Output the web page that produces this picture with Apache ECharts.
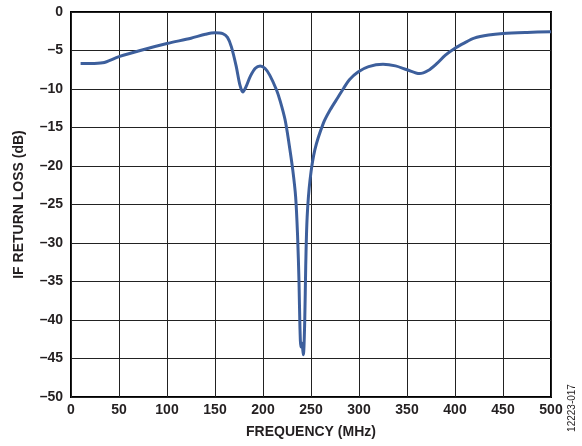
<!DOCTYPE html>
<html>
<head>
<meta charset="utf-8">
<style>
    html, body { margin: 0; padding: 0; background: #fff; }
    #chart { width: 582px; height: 446px; }
</style>
<script src="https://cdn.jsdelivr.net/npm/echarts@6/dist/echarts.min.js"></script>
</head>
<body>
<div id="chart"></div>
<script>
// frequency (MHz) and IF return loss (dB)
var freq = [10, 20, 33, 50, 75, 100, 125, 140, 150, 158, 163, 167, 172, 176, 179, 182, 187, 192, 197, 202,
    207, 214, 218, 223, 227, 231, 234, 236, 237.5, 238.5, 239.5, 240.5, 242, 243.5, 244.5, 246, 249, 254,
    263, 270, 278, 284, 290, 299, 310, 325, 338, 350, 363, 372, 381, 390, 400, 410, 420, 435, 450, 475, 500];
var returnLoss = [-6.7, -6.7, -6.6, -5.8, -4.9, -4.1, -3.4, -2.9, -2.7, -2.8, -3.3, -4.5, -7.0, -9.5, -10.4, -9.8, -8.3, -7.3, -7.0, -7.3,
    -8.2, -10.1, -11.6, -14.0, -17.0, -20.5, -24.0, -29.0, -35.0, -41.0, -43.5, -43.0, -44.5, -40.0, -33.0, -26.6, -21.8, -17.9,
    -14.4, -12.7, -11.1, -9.9, -8.8, -7.8, -7.1, -6.8, -7.0, -7.5, -8.0, -7.6, -6.7, -5.6, -4.7, -4.0, -3.4, -3.0, -2.8, -2.65, -2.55];

var xTicks = { min: 0, max: 500, interval: 50 };
var yTicks = { min: -50, max: 0, interval: 5 };

var points = [];
for (var i = 0; i < freq.length; i++) {
    points.push([freq[i], returnLoss[i]]);
}

var font = '"Liberation Sans", Arial, sans-serif';
var chart = echarts.init(document.getElementById('chart'));
chart.setOption({
    backgroundColor: '#fff',
    animation: false,
    grid: {
        left: 71,
        right: 31,
        top: 12,
        bottom: 49,
        show: true,
        borderColor: '#000',
        borderWidth: 2
    },
    xAxis: {
        type: 'value',
        min: xTicks.min,
        max: xTicks.max,
        interval: xTicks.interval,
        name: 'FREQUENCY (MHz)',
        nameLocation: 'middle',
        nameGap: 28,
        nameTextStyle: { fontFamily: font, fontWeight: 'bold', fontSize: 14, color: '#231f20' },
        axisLine: { show: false },
        axisTick: { show: false },
        axisLabel: { fontFamily: font, fontWeight: 'bold', fontSize: 14, color: '#231f20', margin: 6 },
        splitLine: { show: true, lineStyle: { color: '#222', width: 1 } }
    },
    yAxis: {
        type: 'value',
        min: yTicks.min,
        max: yTicks.max,
        interval: yTicks.interval,
        name: 'IF RETURN LOSS (dB)',
        nameLocation: 'middle',
        nameGap: 45,
        nameTextStyle: { fontFamily: font, fontWeight: 'bold', fontSize: 14, color: '#231f20' },
        axisLine: { show: false },
        axisTick: { show: false },
        axisLabel: {
            fontFamily: font, fontWeight: 'bold', fontSize: 14, color: '#231f20', margin: 8,
            formatter: function (v) { return v < 0 ? '\u2013' + Math.abs(v) : String(v); }
        },
        splitLine: { show: true, lineStyle: { color: '#222', width: 1 } }
    },
    graphic: [{
        type: 'text',
        x: 572,
        y: 408,
        rotation: Math.PI / 2,
        style: {
            text: '12223-017', fontFamily: font, fontSize: 10, fill: '#231f20',
            align: 'center', verticalAlign: 'middle'
        }
    }],
    series: [{
        type: 'line',
        data: points,
        smooth: 0.3,
        showSymbol: false,
        lineStyle: { color: '#3d5f9c', width: 3 }
    }]
});
</script>
</body>
</html>
